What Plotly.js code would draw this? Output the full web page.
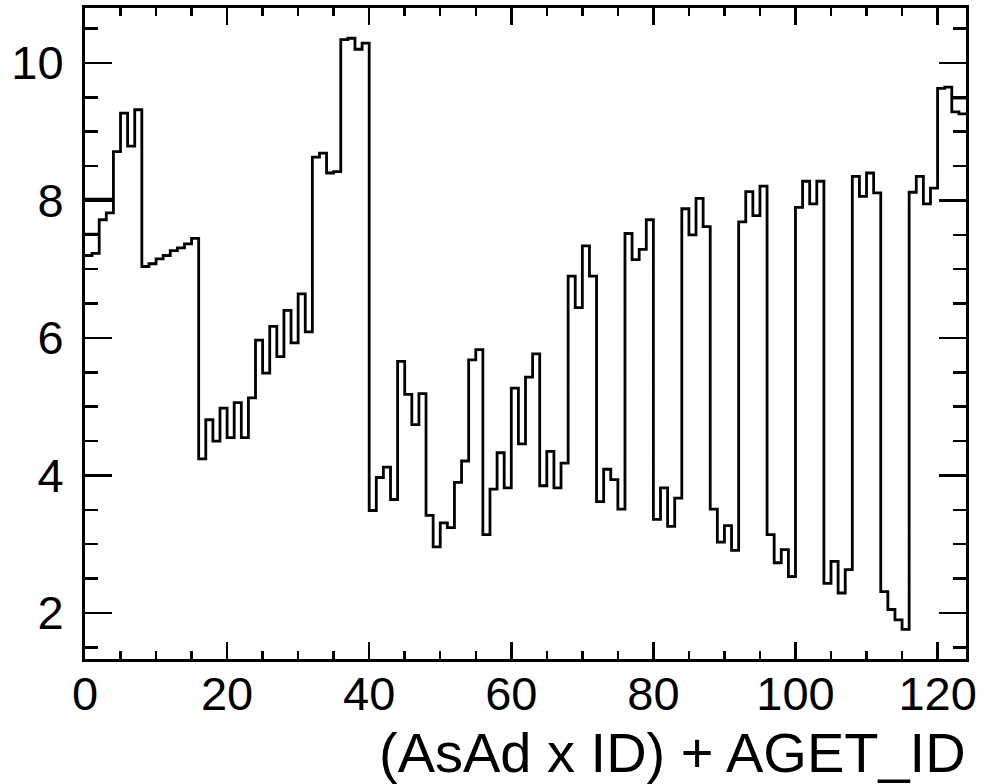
<!DOCTYPE html>
<html>
<head>
<meta charset="utf-8">
<script src="https://cdn.plot.ly/plotly-3.0.1.min.js"></script>
<style>
html,body{margin:0;padding:0;background:#fff;}
#chart{width:988px;height:784px;}
</style>
</head>
<body>
<div id="chart"></div>
<script>
// Bin contents, one per bin of width 1 starting at x = 0
const binValues = [
  7.20, 7.23, 7.72, 7.82, 8.71, 9.27, 8.79, 9.32,
  7.04, 7.08, 7.15, 7.20, 7.27, 7.31, 7.37, 7.45,
  4.24, 4.81, 4.50, 4.98, 4.55, 5.06, 4.55, 5.13,
  5.97, 5.49, 6.17, 5.73, 6.40, 5.93, 6.64, 6.09,
  8.63, 8.69, 8.40, 8.42, 10.34, 10.36, 10.20, 10.29,
  3.49, 3.97, 4.12, 3.65, 5.66, 5.18, 4.74, 5.19,
  3.42, 2.96, 3.31, 3.24, 3.90, 4.21, 5.68, 5.83,
  3.14, 3.80, 4.33, 3.82, 5.27, 4.46, 5.43, 5.77,
  3.85, 4.35, 3.82, 4.18, 6.90, 6.44, 7.34, 6.90,
  3.62, 4.09, 3.94, 3.51, 7.52, 7.14, 7.29, 7.72,
  3.36, 3.82, 3.26, 3.67, 7.88, 7.50, 8.03, 7.62,
  3.51, 3.03, 3.27, 2.91, 7.69, 8.13, 7.78, 8.21,
  3.14, 2.73, 2.92, 2.53, 7.90, 8.28, 7.95, 8.28,
  2.43, 2.75, 2.29, 2.63, 8.35, 8.06, 8.40, 8.11,
  2.31, 2.05, 1.90, 1.76, 8.12, 8.35, 7.95, 8.18,
  9.63, 9.65, 9.29, 9.26
];
const binStart = 0;
const binWidth = 1;

// Extra horizontal segments visible in the picture
const extraX0 = [0, 0, 122];
const extraX1 = [2, 4, 124];
const extraY  = [7.51, 8.02, 9.49];

const xRange = [0, 124];
const yRange = [1.33, 10.8];
const xTickVals = [0, 20, 40, 60, 80, 100, 120];
const yTickVals = [2, 4, 6, 8, 10];
const xTitle = "(AsAd x ID) + AGET_ID";

// step outline built from bin edges
const hx = [], hy = [];
for (let i = 0; i < binValues.length; i++) {
  hx.push(binStart + i * binWidth); hy.push(binValues[i]);
}
hx.push(binStart + binValues.length * binWidth);
hy.push(binValues[binValues.length - 1]);

const ex = [], ey = [];
for (let i = 0; i < extraY.length; i++) {
  ex.push(extraX0[i], extraX1[i], null);
  ey.push(extraY[i], extraY[i], null);
}

const font = "Liberation Sans, Arial, Helvetica, sans-serif";

const traces = [
  {x: hx, y: hy, type: "scatter", mode: "lines",
   line: {shape: "hv", color: "#000", width: 2.8}, hoverinfo: "skip"},
  {x: ex, y: ey, type: "scatter", mode: "lines",
   line: {color: "#000", width: 2.8}, hoverinfo: "skip", connectgaps: false}
];

const layout = {
  width: 988, height: 784,
  margin: {l: 85, r: 22, t: 8, b: 125, pad: 0},
  paper_bgcolor: "#fff", plot_bgcolor: "#fff",
  showlegend: false,
  font: {family: font, color: "#000"},
  xaxis: {
    range: xRange, tickvals: xTickVals, ticktext: xTickVals.map(String),
    showgrid: false, zeroline: false,
    showline: true, linecolor: "#000", linewidth: 3, mirror: "allticks",
    ticks: "inside", ticklen: 17, tickwidth: 2.5, tickcolor: "#000",
    minor: {dtick: 5, tick0: 0, ticks: "inside", ticklen: 8, tickwidth: 2.5, tickcolor: "#000", showgrid: false},
    tickfont: {family: font, size: 47, color: "#000"},
    ticklabelstandoff: -8
  },
  yaxis: {
    range: yRange, tickvals: yTickVals, ticktext: yTickVals.map(String),
    showgrid: false, zeroline: false,
    showline: true, linecolor: "#000", linewidth: 3, mirror: "allticks",
    ticks: "inside", ticklen: 27, tickwidth: 2.5, tickcolor: "#000",
    minor: {dtick: 0.5, tick0: 0, ticks: "inside", ticklen: 13, tickwidth: 2.5, tickcolor: "#000", showgrid: false},
    tickfont: {family: font, size: 47, color: "#000"},
    ticklabelstandoff: 9
  },
  annotations: [{
    text: xTitle, xref: "paper", yref: "paper",
    x: 1.002, y: -0.092, xanchor: "right", yanchor: "top",
    showarrow: false, font: {family: font, size: 56, color: "#000"}
  }]
};

Plotly.newPlot("chart", traces, layout, {displayModeBar: false, staticPlot: true});
</script>
</body>
</html>
